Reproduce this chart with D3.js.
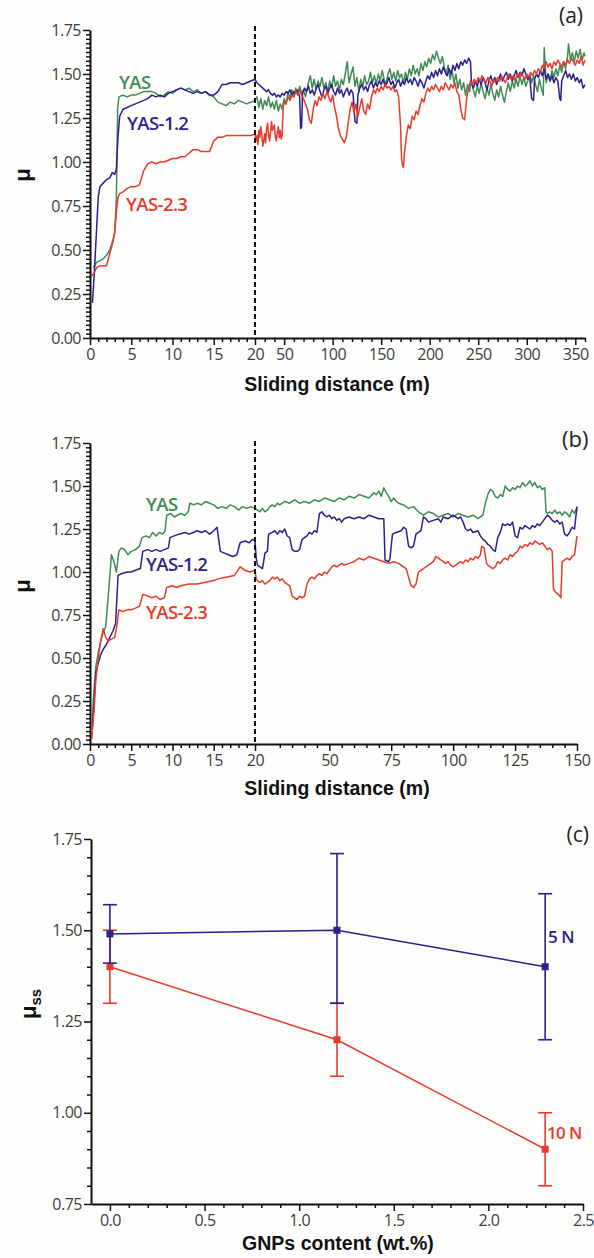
<!DOCTYPE html>
<html><head><meta charset="utf-8">
<script src="https://cdn.jsdelivr.net/npm/d3@7"></script>
<style>body{margin:0;background:#fdfdfc}svg{display:block}</style>
</head><body>
<svg id="c" width="594" height="1258"></svg>
<script>
// ---------- colours ----------
const GREEN = '#3f8b56', NAVY = '#2d1f8c', RED = '#e53b2d';

// ---------- panel (a): 5 N, friction coefficient vs sliding distance ----------
const aTicksX = [0, 5, 10, 15, 20, 50, 100, 150, 200, 250, 300, 350];
const aTicksY = [0, 0.25, 0.5, 0.75, 1.0, 1.25, 1.5, 1.75];
const aYAS = [[0.4,0.40],[0.8,0.43],[1.2,0.44],[1.6,0.45],[2.0,0.47],[2.4,0.50],[2.8,0.56],[3.0,0.60],[3.2,0.80],[3.35,1.30],[3.5,1.37],[4.0,1.38],[4.5,1.37],[5.0,1.38],[5.5,1.38],[6.0,1.39],[6.5,1.40],[7.0,1.40],[7.5,1.40],[8.0,1.39],[8.5,1.37],[9.0,1.38],[9.5,1.40],[10,1.39],[10.5,1.41],[11,1.42],[11.5,1.41],[12,1.42],[12.5,1.40],[13,1.41],[13.5,1.39],[14,1.40],[14.5,1.38],[15,1.37],[15.5,1.34],[16,1.33],[16.5,1.32],[17,1.34],[17.5,1.33],[18,1.35],[18.5,1.34],[19,1.33],[19.5,1.34],[20,1.35],
[22,1.37],[24,1.31],[26,1.36],[28,1.30],[30,1.35],[32,1.32],[34,1.37],[36,1.31],[38,1.34],[40,1.30],[42,1.35],[44,1.29],[46,1.33],[48,1.30],[50,1.36],[52,1.33],[54,1.40],[56,1.36],[58,1.41],[60,1.37],[62,1.42],[64,1.38],[66,1.43],[68,1.39],[70,1.41],[72,1.37],[75,1.45],[77,1.49],[79,1.42],[81,1.47],[83,1.41],[85,1.46],[87,1.43],[89,1.48],[91,1.42],[93,1.45],[95,1.40],[97,1.46],[99,1.42],[101,1.49],[103,1.43],[105,1.46],[107,1.41],[109,1.47],[111,1.44],[113,1.50],[115,1.57],[117,1.45],[119,1.50],[121,1.54],[123,1.43],[125,1.48],[127,1.40],[129,1.47],[131,1.43],[133,1.49],[135,1.44],[137,1.46],[139,1.51],[141,1.45],[143,1.49],[145,1.44],[147,1.50],[149,1.46],[151,1.52],[153,1.47],[155,1.44],[157,1.50],[159,1.53],[161,1.47],[163,1.51],[165,1.46],[167,1.52],[169,1.48],[171,1.50],[173,1.45],[175,1.51],[177,1.47],[179,1.53],[181,1.49],[183,1.55],[185,1.50],[187,1.53],[189,1.49],[191,1.56],[193,1.52],[195,1.57],[197,1.54],[199,1.59],[201,1.56],[203,1.61],[205,1.58],[207,1.63],[209,1.59],[211,1.56],[213,1.60],[215,1.54],[217,1.50],[219,1.55],[221,1.47],[223,1.52],[225,1.45],[227,1.50],[229,1.42],[231,1.47],[233,1.41],[235,1.45],[237,1.38],[239,1.44],[241,1.40],[243,1.46],[245,1.41],[247,1.37],[249,1.43],[251,1.39],[253,1.45],[255,1.40],[257,1.36],[259,1.42],[261,1.38],[263,1.44],[265,1.39],[267,1.35],[269,1.41],[271,1.37],[273,1.43],[275,1.38],[277,1.34],[279,1.40],[281,1.45],[283,1.40],[285,1.46],[287,1.42],[289,1.47],[291,1.43],[293,1.49],[295,1.44],[297,1.48],[299,1.43],[301,1.46],[303,1.50],[305,1.45],[307,1.49],[309,1.44],[311,1.40],[313,1.47],[315,1.42],[317,1.38],[318,1.65],[320,1.45],[322,1.50],[324,1.46],[326,1.52],[328,1.48],[330,1.53],[332,1.49],[334,1.55],[336,1.51],[338,1.57],[340,1.53],[342,1.60],[343,1.67],[345,1.58],[347,1.62],[349,1.57],[351,1.63],[353,1.59],[355,1.64],[357,1.58],[359,1.62],[360,1.60]];
const aYAS12 = [[0.3,0.20],[0.5,0.35],[0.8,0.62],[1.0,0.80],[1.2,0.86],[1.6,0.88],[2.0,0.90],[2.4,0.91],[2.7,0.94],[3.0,0.93],[3.2,0.96],[3.4,1.15],[3.6,1.26],[4.0,1.30],[4.5,1.31],[5.0,1.32],[5.5,1.33],[6.0,1.34],[6.5,1.35],[7.0,1.36],[7.5,1.38],[8.0,1.37],[8.5,1.38],[9.0,1.37],[9.5,1.39],[10,1.40],[10.5,1.41],[11,1.42],[11.5,1.41],[12,1.40],[12.5,1.39],[13,1.40],[13.5,1.39],[14,1.40],[14.5,1.38],[15,1.38],[15.5,1.40],[16,1.44],[16.5,1.44],[17,1.45],[17.5,1.45],[18,1.45],[18.5,1.44],[19,1.45],[19.5,1.46],[20,1.47],
[22,1.45],[24,1.44],[26,1.43],[28,1.42],[30,1.41],[32,1.40],[34,1.41],[36,1.39],[38,1.38],[40,1.39],[42,1.37],[44,1.38],[46,1.37],[48,1.39],[50,1.38],[52,1.40],[54,1.39],[56,1.41],[58,1.38],[60,1.40],[62,1.39],[64,1.41],[66,1.37],[67,1.19],[68,1.20],[69,1.39],[71,1.42],[73,1.40],[75,1.43],[77,1.39],[79,1.41],[81,1.38],[83,1.42],[85,1.44],[87,1.40],[89,1.37],[91,1.41],[93,1.43],[95,1.39],[97,1.42],[99,1.44],[101,1.40],[103,1.38],[105,1.42],[107,1.39],[109,1.41],[111,1.37],[113,1.40],[115,1.42],[117,1.38],[119,1.41],[121,1.39],[123,1.23],[125,1.22],[126,1.38],[128,1.42],[130,1.44],[132,1.41],[134,1.43],[136,1.40],[138,1.44],[140,1.46],[142,1.42],[144,1.45],[146,1.43],[148,1.46],[150,1.44],[152,1.47],[154,1.43],[156,1.45],[158,1.48],[160,1.44],[162,1.46],[164,1.42],[166,1.45],[168,1.47],[170,1.43],[172,1.46],[174,1.44],[176,1.48],[178,1.45],[180,1.47],[182,1.44],[184,1.48],[186,1.46],[188,1.43],[190,1.47],[192,1.45],[194,1.42],[196,1.46],[198,1.49],[200,1.47],[202,1.51],[204,1.48],[206,1.52],[208,1.49],[210,1.53],[212,1.50],[214,1.54],[216,1.51],[218,1.49],[220,1.53],[222,1.50],[224,1.55],[226,1.52],[228,1.56],[230,1.53],[232,1.57],[234,1.55],[236,1.58],[238,1.56],[240,1.59],[242,1.57],[243,1.45],[245,1.42],[247,1.46],[249,1.43],[251,1.47],[253,1.44],[255,1.48],[257,1.45],[259,1.41],[261,1.46],[263,1.49],[265,1.45],[267,1.48],[269,1.44],[271,1.47],[273,1.50],[275,1.46],[277,1.49],[279,1.51],[281,1.47],[283,1.50],[285,1.46],[287,1.49],[289,1.52],[291,1.48],[293,1.51],[295,1.49],[297,1.53],[299,1.50],[301,1.47],[303,1.49],[305,1.36],[307,1.35],[308,1.47],[310,1.50],[312,1.48],[314,1.52],[316,1.49],[318,1.53],[320,1.47],[322,1.50],[324,1.46],[326,1.49],[328,1.45],[330,1.48],[332,1.46],[334,1.36],[335,1.35],[336,1.46],[338,1.49],[340,1.52],[342,1.48],[344,1.50],[346,1.47],[348,1.50],[350,1.46],[352,1.48],[354,1.45],[356,1.47],[358,1.42],[360,1.44]];
const aYAS23 = [[0.2,0.35],[0.5,0.37],[0.8,0.40],[1.2,0.41],[1.6,0.41],[2.0,0.41],[2.4,0.48],[2.8,0.55],[3.0,0.60],[3.2,0.72],[3.4,0.80],[3.6,0.82],[4.0,0.83],[4.5,0.85],[5.0,0.86],[5.5,0.86],[6.0,0.87],[6.5,0.95],[7.0,0.99],[7.5,1.00],[8.0,0.99],[8.5,1.00],[9.0,1.00],[9.5,1.01],[10,1.02],[10.5,1.02],[11,1.03],[11.5,1.03],[12,1.05],[12.5,1.07],[13,1.07],[13.5,1.06],[14,1.06],[14.5,1.06],[15,1.12],[15.5,1.14],[16,1.14],[16.5,1.15],[17,1.15],[17.5,1.15],[18,1.15],[18.5,1.15],[19,1.15],[19.5,1.15],[20,1.16],
[21,1.12],[22,1.15],[23,1.10],[24,1.18],[25,1.14],[26,1.20],[27,1.16],[28,1.09],[29,1.12],[30,1.16],[31,1.11],[32,1.19],[33,1.22],[34,1.15],[35,1.12],[36,1.17],[37,1.23],[38,1.18],[40,1.21],[41,1.14],[42,1.12],[43,1.17],[44,1.20],[45,1.14],[46,1.18],[47,1.13],[48,1.15],[49,1.31],[50,1.34],[52,1.33],[54,1.37],[56,1.35],[58,1.38],[60,1.37],[62,1.40],[64,1.39],[66,1.41],[68,1.38],[70,1.36],[72,1.33],[74,1.30],[76,1.24],[78,1.22],[80,1.30],[82,1.35],[84,1.32],[86,1.37],[88,1.35],[90,1.39],[92,1.36],[94,1.40],[96,1.37],[98,1.34],[100,1.38],[102,1.31],[104,1.26],[106,1.19],[108,1.15],[110,1.13],[112,1.11],[114,1.14],[116,1.22],[118,1.30],[120,1.34],[122,1.28],[124,1.33],[126,1.26],[128,1.31],[130,1.36],[132,1.29],[134,1.27],[136,1.33],[138,1.30],[140,1.37],[142,1.41],[144,1.39],[146,1.42],[148,1.40],[150,1.43],[152,1.41],[154,1.44],[156,1.42],[158,1.43],[160,1.41],[162,1.43],[164,1.40],[166,1.41],[168,1.37],[170,1.20],[171,1.02],[172,0.98],[173,0.97],[174,1.05],[176,1.15],[178,1.21],[180,1.19],[182,1.26],[184,1.24],[186,1.29],[188,1.27],[190,1.32],[192,1.36],[194,1.34],[196,1.39],[198,1.42],[200,1.40],[202,1.43],[204,1.41],[206,1.44],[208,1.42],[210,1.40],[212,1.43],[214,1.41],[216,1.45],[218,1.43],[220,1.41],[222,1.44],[224,1.42],[226,1.45],[228,1.40],[230,1.38],[232,1.30],[234,1.25],[236,1.24],[238,1.36],[240,1.42],[242,1.46],[244,1.44],[246,1.47],[248,1.45],[250,1.48],[252,1.46],[254,1.49],[256,1.47],[258,1.45],[260,1.48],[262,1.46],[264,1.43],[266,1.47],[268,1.45],[270,1.48],[272,1.46],[274,1.49],[276,1.47],[278,1.45],[280,1.48],[282,1.50],[284,1.47],[286,1.49],[288,1.46],[290,1.50],[292,1.48],[294,1.51],[296,1.49],[298,1.47],[300,1.50],[302,1.48],[304,1.51],[306,1.49],[308,1.52],[310,1.50],[312,1.53],[314,1.51],[316,1.55],[318,1.53],[320,1.57],[322,1.54],[324,1.56],[326,1.53],[328,1.57],[330,1.55],[332,1.58],[334,1.56],[336,1.54],[338,1.57],[340,1.55],[342,1.58],[344,1.56],[346,1.59],[348,1.57],[350,1.55],[352,1.58],[354,1.56],[356,1.60],[358,1.55],[360,1.58]];

// ---------- panel (b): 10 N ----------
const bTicksX = [0, 5, 10, 15, 20, 50, 75, 100, 125, 150];
const bTicksY = [0, 0.25, 0.5, 0.75, 1.0, 1.25, 1.5, 1.75];
const bYAS = [[0.2,0.03],[0.4,0.25],[0.7,0.45],[1.0,0.53],[1.3,0.60],[1.6,0.65],[1.9,0.68],[2.2,0.85],[2.6,1.10],[2.9,1.06],[3.2,1.00],[3.5,1.12],[3.8,1.14],[4.2,1.13],[4.6,1.10],[5.0,1.12],[5.5,1.13],[6.0,1.15],[6.3,1.20],[6.8,1.21],[7.2,1.20],[7.6,1.23],[8.0,1.21],[8.4,1.23],[8.8,1.22],[9.1,1.24],[9.3,1.33],[9.8,1.34],[10.2,1.32],[10.6,1.33],[11.0,1.34],[11.5,1.33],[11.9,1.35],[12.1,1.40],[12.6,1.39],[13.0,1.40],[13.5,1.39],[14.0,1.41],[14.5,1.40],[15.0,1.39],[15.5,1.37],[16.0,1.38],[16.5,1.37],[17.0,1.39],[17.5,1.38],[18.0,1.36],[18.5,1.38],[19.0,1.37],[19.5,1.38],[20,1.37],
[21,1.36],[22,1.35],[23,1.37],[24,1.35],[25,1.36],[26,1.38],[27,1.39],[28,1.38],[29,1.40],[30,1.39],[32,1.41],[34,1.40],[36,1.42],[38,1.40],[40,1.41],[42,1.40],[44,1.42],[46,1.41],[48,1.43],[50,1.42],[52,1.41],[54,1.43],[56,1.42],[58,1.44],[60,1.43],[62,1.45],[64,1.44],[66,1.43],[68,1.46],[69,1.45],[70,1.47],[71,1.44],[72,1.49],[73,1.46],[74,1.44],[75,1.41],[76,1.43],[77,1.41],[78,1.40],[80,1.39],[82,1.37],[84,1.38],[86,1.35],[88,1.33],[90,1.35],[92,1.34],[94,1.32],[96,1.33],[98,1.34],[100,1.32],[102,1.34],[104,1.33],[106,1.32],[108,1.33],[110,1.31],[112,1.33],[113,1.40],[114,1.45],[115,1.48],[116,1.47],[117,1.44],[118,1.43],[119,1.45],[120,1.44],[121,1.50],[122,1.48],[123,1.47],[124,1.49],[125,1.48],[126,1.50],[127,1.49],[128,1.52],[129,1.50],[130,1.51],[131,1.53],[132,1.50],[133,1.52],[134,1.49],[135,1.50],[136,1.48],[137,1.49],[137.5,1.35],[138,1.34],[139,1.35],[140,1.34],[141,1.36],[142,1.34],[143,1.35],[144,1.33],[145,1.35],[146,1.34],[147,1.32],[148,1.36],[149,1.34],[150,1.38]];
const bYAS12 = [[0.3,0.10],[0.5,0.25],[0.7,0.41],[1.0,0.47],[1.3,0.52],[1.6,0.55],[2.0,0.58],[2.4,0.62],[2.8,0.66],[3.1,0.70],[3.4,0.98],[3.8,0.99],[4.5,1.00],[5.0,1.00],[5.5,1.01],[6.1,1.02],[6.4,1.12],[7.0,1.13],[7.5,1.12],[8.0,1.13],[8.5,1.12],[9.0,1.13],[9.5,1.14],[9.7,1.20],[10.2,1.21],[10.8,1.22],[11.5,1.23],[12.0,1.22],[12.5,1.23],[13.0,1.24],[13.5,1.23],[14.0,1.24],[14.5,1.22],[15.0,1.24],[15.4,1.26],[15.8,1.12],[16.3,1.11],[16.8,1.10],[17.3,1.09],[17.8,1.10],[18.2,1.17],[18.8,1.18],[19.3,1.17],[19.7,1.19],[20,1.18],
[20.5,1.08],[21,1.04],[22,1.03],[23,1.02],[23.5,1.06],[24,1.11],[25,1.12],[25.5,1.22],[27,1.23],[28,1.24],[29,1.22],[30,1.24],[31,1.23],[32,1.25],[33,1.21],[34,1.20],[35,1.13],[36,1.12],[37,1.12],[38,1.13],[39,1.19],[40,1.20],[41,1.21],[42,1.23],[43,1.22],[44,1.24],[45,1.23],[46,1.34],[47,1.35],[48,1.33],[49,1.32],[50,1.33],[51,1.31],[52,1.32],[53,1.30],[54,1.31],[55,1.29],[56,1.31],[58,1.32],[60,1.31],[62,1.32],[64,1.31],[66,1.33],[68,1.32],[70,1.31],[72,1.31],[72.5,1.07],[74,1.06],[74.5,1.08],[75.5,1.22],[77,1.23],[79,1.24],[80,1.26],[81,1.25],[82,1.15],[83,1.14],[84,1.15],[85,1.22],[86,1.23],[87,1.24],[88,1.32],[89,1.31],[90,1.29],[92,1.30],[94,1.31],[95,1.29],[96,1.32],[98,1.31],[100,1.33],[102,1.31],[103,1.32],[104,1.29],[105,1.25],[106,1.24],[107,1.25],[108,1.23],[110,1.24],[111,1.21],[112,1.19],[113,1.18],[114,1.16],[115,1.15],[116,1.13],[117,1.12],[118,1.20],[119,1.23],[120,1.28],[121,1.27],[122,1.28],[123,1.27],[124,1.29],[125,1.21],[126,1.20],[127,1.26],[128,1.25],[129,1.27],[130,1.26],[131,1.25],[132,1.27],[133,1.26],[134,1.28],[135,1.27],[136,1.29],[137,1.31],[138,1.33],[139,1.32],[140,1.30],[141,1.29],[142,1.30],[143,1.28],[144,1.29],[145,1.22],[146,1.21],[147,1.23],[148,1.26],[149,1.25],[150,1.38]];
const bYAS23 = [[0.2,0.03],[0.5,0.20],[0.7,0.37],[1.0,0.50],[1.3,0.60],[1.6,0.67],[1.9,0.62],[2.2,0.60],[2.6,0.61],[3.0,0.62],[3.3,0.70],[3.5,0.78],[4.0,0.77],[4.5,0.78],[5.0,0.78],[5.5,0.79],[6.0,0.80],[6.4,0.87],[7.0,0.86],[7.5,0.85],[8.0,0.86],[8.5,0.84],[9.0,0.85],[9.3,0.91],[10,0.92],[10.5,0.91],[11,0.92],[12,0.93],[13,0.93],[14,0.94],[15,0.95],[15.5,0.96],[16.5,0.97],[17.5,0.98],[18.2,1.03],[18.8,1.01],[19.4,1.00],[20,1.01],
[20.5,0.96],[21,0.95],[22,0.94],[23,0.95],[24,0.93],[25,0.94],[26,0.95],[27,0.97],[28,0.96],[29,0.97],[30,0.95],[31,0.96],[32,0.94],[33,0.93],[34,0.92],[35,0.86],[36,0.85],[37,0.84],[38,0.86],[39,0.85],[40,0.86],[41,0.93],[42,0.96],[43,0.97],[44,0.96],[45,0.98],[46,0.99],[47,0.98],[48,1.00],[49,0.99],[50,1.01],[51,1.03],[52,1.04],[53,1.03],[54,1.04],[55,1.05],[56,1.04],[58,1.05],[60,1.06],[61,1.07],[62,1.08],[64,1.07],[66,1.09],[68,1.08],[70,1.07],[72,1.06],[74,1.05],[76,1.06],[78,1.05],[80,1.03],[81,1.02],[82,0.97],[83,0.92],[84,0.91],[85,0.93],[86,1.00],[87,1.01],[88,1.02],[90,1.04],[92,1.06],[93,1.09],[94,1.08],[95,1.07],[96,1.06],[97,1.05],[98,1.06],[99,1.04],[100,1.03],[101,1.04],[102,1.05],[103,1.06],[104,1.05],[105,1.07],[106,1.06],[107,1.08],[108,1.07],[109,1.09],[110,1.08],[111,1.10],[111.5,1.15],[112.5,1.14],[113.5,1.05],[114,1.04],[115,1.03],[116,1.02],[117,1.03],[118,1.06],[119,1.05],[120,1.07],[121,1.08],[122,1.07],[123,1.10],[124,1.09],[125,1.11],[126,1.12],[127,1.15],[128,1.14],[129,1.16],[130,1.15],[131,1.17],[132,1.16],[133,1.18],[134,1.17],[135,1.16],[136,1.17],[137,1.15],[138,1.13],[139,1.14],[140,1.12],[140.5,0.90],[141.5,0.88],[142.5,0.87],[143.5,0.85],[144,1.06],[145,1.07],[146,1.08],[147,1.07],[148,1.09],[149,1.10],[150,1.21]];

// ---------- panel (c): steady-state friction vs GNP content ----------
const cTicksX = [0, 0.5, 1.0, 1.5, 2.0, 2.5];
const cTicksY = [0.75, 1.0, 1.25, 1.5, 1.75];
const gnpContent = [0, 1.2, 2.3];
const mu5N = [1.49, 1.50, 1.40];
const lo5N = [1.41, 1.30, 1.20];
const hi5N = [1.57, 1.71, 1.60];
const mu10N = [1.40, 1.20, 0.90];
const lo10N = [1.30, 1.10, 0.80];
const hi10N = [1.50, 1.30, 1.00];

// ---------- drawing ----------
const svg = d3.select('#c');
svg.append('rect').attr('width', 594).attr('height', 1258).attr('fill', '#fdfdfc');
const TICKFONT = "'Open Sans', sans-serif";
const TITLEFONT = "'Liberation Sans', Arial, sans-serif";

function range(a, b, s) { const r = []; for (let v = a; v <= b + 1e-9; v += s) r.push(+v.toFixed(4)); return r; }

function axes(x, y, xMajor, xMinor, yMajor, yMinor, xFmt, yFmt) {
  const y0 = y.range()[0], x0 = x.range()[0];
  const style = sel => {
    sel.select('.domain').attr('stroke', '#111').attr('stroke-width', 2);
    sel.selectAll('.tick line').attr('stroke', '#111').attr('stroke-width', 1.5);
    sel.selectAll('.tick text').attr('fill', '#3d3d3d').attr('font-family', TICKFONT)
      .attr('font-size', 16).attr('letter-spacing', -0.5);
  };
  svg.append('g').attr('transform', `translate(0,${y0})`)
    .call(d3.axisBottom(x).tickValues(xMinor).tickSize(4).tickFormat('').tickSizeOuter(0))
    .call(s => s.select('.domain').remove()).call(style);
  svg.append('g').attr('transform', `translate(${x0},0)`)
    .call(d3.axisLeft(y).tickValues(yMinor).tickSize(4).tickFormat('').tickSizeOuter(0))
    .call(s => s.select('.domain').remove()).call(style);
  svg.append('g').attr('transform', `translate(0,${y0})`)
    .call(d3.axisBottom(x).tickValues(xMajor).tickSize(7).tickPadding(4).tickSizeOuter(0).tickFormat(xFmt))
    .call(style);
  svg.append('g').attr('transform', `translate(${x0},0)`)
    .call(d3.axisLeft(y).tickValues(yMajor).tickSize(7).tickPadding(2).tickSizeOuter(0).tickFormat(yFmt))
    .call(style);
}

function txt(x, y, s, o) {
  const t = svg.append('text').attr('x', x).attr('y', y).text(s)
    .attr('font-family', o.family || TICKFONT).attr('font-size', o.size)
    .attr('font-weight', o.weight || 400).attr('fill', o.fill || '#222')
    .attr('text-anchor', o.anchor || 'start');
  if (o.ls != null) t.attr('letter-spacing', o.ls);
  if (o.rot) t.attr('transform', `rotate(-90,${x},${y})`);
  return t;
}

function seriesLine(x, y, data, color, w) {
  svg.append('path').datum(data)
    .attr('d', d3.line().x(d => x(d[0])).y(d => y(d[1])))
    .attr('fill', 'none').attr('stroke', color).attr('stroke-width', w || 1.5)
    .attr('stroke-linejoin', 'round');
}

const f2 = d3.format('.2f');

// ----- (a)
{
  const x = d3.scaleLinear().domain([0, 20, 360]).range([90, 255, 585]);
  const y = d3.scaleLinear().domain([0, 1.75]).range([338, 30]);
  const minorX = range(1, 19, 1).filter(v => v % 5).concat(range(30, 360, 10).filter(v => v % 50));
  axes(x, y, aTicksX, minorX, aTicksY, range(0, 1.75, 0.025).filter(v => Math.round(v * 1000) % 250), d => d, f2);
  seriesLine(x, y, aYAS, GREEN);
  seriesLine(x, y, aYAS12, NAVY);
  seriesLine(x, y, aYAS23, RED);
  svg.append('line').attr('x1', x(20)).attr('x2', x(20)).attr('y1', 26).attr('y2', 338)
    .attr('stroke', '#111').attr('stroke-width', 2).attr('stroke-dasharray', '5,3');
  txt(119, 89, 'YAS', {size: 18.5, fill: GREEN, weight: 600, ls: -0.6});
  txt(127, 130, 'YAS-1.2', {size: 18.5, fill: NAVY, weight: 600, ls: -0.6});
  txt(126, 211, 'YAS-2.3', {size: 18.5, fill: RED, weight: 600, ls: -0.6});
  txt(583, 23, '(a)', {size: 21, fill: '#222', anchor: 'end'});
  txt(30, 175, 'μ', {size: 22, weight: 700, family: TITLEFONT, fill: '#111', anchor: 'middle', rot: true});
  txt(337, 391, 'Sliding distance (m)', {size: 19.5, weight: 700, family: TITLEFONT, fill: '#111', anchor: 'middle'});
}

// ----- (b)
{
  const x = d3.scaleLinear().domain([0, 20, 150]).range([90, 255, 577]);
  const y = d3.scaleLinear().domain([0, 1.75]).range([744, 443]);
  const minorX = range(1, 19, 1).filter(v => v % 5).concat(range(25, 145, 5).filter(v => v % 25));
  axes(x, y, bTicksX, minorX, bTicksY, range(0, 1.75, 0.025).filter(v => Math.round(v * 1000) % 250), d => d, f2);
  seriesLine(x, y, bYAS, GREEN);
  seriesLine(x, y, bYAS12, NAVY);
  seriesLine(x, y, bYAS23, RED);
  svg.append('line').attr('x1', x(20)).attr('x2', x(20)).attr('y1', 441).attr('y2', 744)
    .attr('stroke', '#111').attr('stroke-width', 2).attr('stroke-dasharray', '5,3');
  txt(146, 511, 'YAS', {size: 18.5, fill: GREEN, weight: 600, ls: -0.6});
  txt(146, 571, 'YAS-1.2', {size: 18.5, fill: NAVY, weight: 600, ls: -0.6});
  txt(146, 619, 'YAS-2.3', {size: 18.5, fill: RED, weight: 600, ls: -0.6});
  txt(562, 447, '(b)', {size: 22, fill: '#222'});
  txt(30, 586, 'μ', {size: 22, weight: 700, family: TITLEFONT, fill: '#111', anchor: 'middle', rot: true});
  txt(337, 795, 'Sliding distance (m)', {size: 19.5, weight: 700, family: TITLEFONT, fill: '#111', anchor: 'middle'});
}

// ----- (c)
{
  const x = d3.scaleLinear().domain([-0.1, 2.5]).range([91, 583]);
  const y = d3.scaleLinear().domain([0.75, 1.75]).range([1204, 839]);
  const minorX = range(0.1, 2.4, 0.1).filter(v => Math.round(v * 10) % 5);
  const minorY = range(0.8, 1.7, 0.05).filter(v => Math.round(v * 100) % 25);
  axes(x, y, cTicksX, minorX, cTicksY, minorY, d3.format('.1f'), f2);
  const sets = [
    {mu: mu10N, lo: lo10N, hi: hi10N, c: RED},
    {mu: mu5N, lo: lo5N, hi: hi5N, c: NAVY}
  ];
  sets.forEach(s => {
    const pts = gnpContent.map((g, i) => ({g, m: s.mu[i], lo: s.lo[i], hi: s.hi[i]}));
    svg.append('path').datum(pts)
      .attr('d', d3.line().x(d => x(d.g)).y(d => y(d.m)))
      .attr('fill', 'none').attr('stroke', s.c).attr('stroke-width', 1.5);
    const g = svg.append('g').attr('stroke', s.c).attr('stroke-width', 1.6);
    pts.forEach(d => {
      g.append('line').attr('x1', x(d.g)).attr('x2', x(d.g)).attr('y1', y(d.lo)).attr('y2', y(d.hi));
      g.append('line').attr('x1', x(d.g) - 7).attr('x2', x(d.g) + 7).attr('y1', y(d.lo)).attr('y2', y(d.lo));
      g.append('line').attr('x1', x(d.g) - 7).attr('x2', x(d.g) + 7).attr('y1', y(d.hi)).attr('y2', y(d.hi));
    });
    svg.append('g').selectAll('rect').data(pts).join('rect')
      .attr('x', d => x(d.g) - 3.5).attr('y', d => y(d.m) - 3.5)
      .attr('width', 7).attr('height', 7).attr('fill', s.c);
  });
  txt(548, 943, '5 N', {size: 17, fill: NAVY, weight: 600, ls: -0.4});
  txt(547, 1139, '10 N', {size: 17, fill: RED, weight: 600, ls: -0.6});
  txt(589, 842, '(c)', {size: 21, fill: '#222', anchor: 'end'});
  const t = svg.append('text').attr('transform', 'translate(36,1004) rotate(-90)')
    .attr('text-anchor', 'middle').attr('font-family', TITLEFONT).attr('font-weight', 700)
    .attr('font-size', 22).attr('fill', '#111');
  t.append('tspan').text('μ');
  t.append('tspan').attr('font-size', 15).attr('dy', 5).text('ss');
  txt(338, 1250, 'GNPs content (wt.%)', {size: 19.5, weight: 700, family: TITLEFONT, fill: '#111', anchor: 'middle'});
}
</script>
</body></html>
